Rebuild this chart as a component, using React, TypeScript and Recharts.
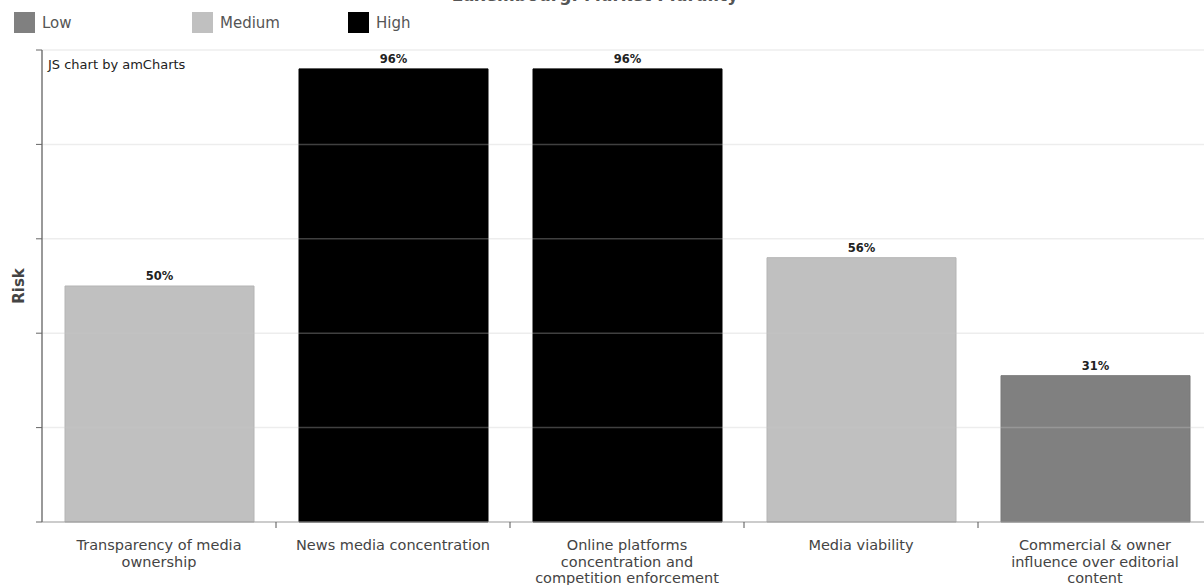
import React from "react";
import { BarChart, Bar, XAxis, YAxis, Cell, LabelList, ReferenceLine } from "recharts";

const categories = [
  "Transparency of media ownership",
  "News media concentration",
  "Online platforms concentration and competition enforcement",
  "Media viability",
  "Commercial & owner influence over editorial content",
];
const riskValues = [50, 96, 96, 56, 31];
const riskLevels = ["Medium", "High", "High", "Medium", "Low"];
const yTicks = [0, 20, 40, 60, 80, 100];
const legendItems = ["Low", "Medium", "High"];
const levelColors: Record<string, string> = { Low: "#808080", Medium: "#c0c0c0", High: "#000000" };
const levelStrokes: Record<string, string> = { Low: "#787878", Medium: "#b4b4b4", High: "#000000" };

const data = categories.map((c, i) => ({ name: c, value: riskValues[i], level: riskLevels[i] }));

const FONT = "'DejaVu Sans', Verdana, sans-serif";

function wrap(text: string, maxChars: number): string[] {
  const words = text.split(" ");
  const lines: string[] = [];
  let cur = "";
  for (const w of words) {
    const next = cur ? cur + " " + w : w;
    if (next.length > maxChars && cur) {
      lines.push(cur);
      cur = w;
    } else cur = next;
  }
  if (cur) lines.push(cur);
  return lines;
}

const CategoryTick = (props: any) => {
  const { x, y, payload, index } = props;
  const half = payload && payload.offset ? payload.offset : 117;
  const lines = wrap(String(payload.value), 24);
  return (
    <g>
      {index > 0 && (
        <line x1={x - half} y1={y - 8} x2={x - half} y2={y - 2} stroke="#555" strokeWidth={1} />
      )}
      <text x={x} y={y + 20} textAnchor="middle" fontFamily={FONT} fontSize={14.5} fill="#444">
        {lines.map((l, i) => (
          <tspan key={i} x={x} dy={i === 0 ? 0 : 16.5}>
            {l}
          </tspan>
        ))}
      </text>
    </g>
  );
};

const EmptyTick = () => <g />;

export default function App() {
  return (
    <div
      style={{
        position: "fixed",
        left: 0,
        top: 0,
        width: 1204,
        height: 585,
        overflow: "hidden",
        background: "#fff",
        fontFamily: FONT,
      }}
    >
      <div
        style={{
          position: "absolute",
          left: 0,
          width: 1190,
          top: -15,
          textAlign: "center",
          fontSize: 17,
          fontWeight: "bold",
          color: "#555",
          whiteSpace: "nowrap",
        }}
      >
        Luxembourg: Market Plurality
      </div>
      {legendItems.map((l, i) => {
        const lefts = [14, 192, 348];
        return (
          <div
            key={l}
            style={{
              position: "absolute",
              left: lefts[i],
              top: 12,
              display: "flex",
              alignItems: "center",
              height: 21,
            }}
          >
            <div style={{ width: 21, height: 21, background: levelColors[l] }} />
            <span style={{ marginLeft: 7, fontSize: 15, color: "#555" }}>{l}</span>
          </div>
        );
      })}
      <div
        style={{
          position: "absolute",
          left: 48,
          top: 57,
          fontSize: 13,
          color: "#222",
          whiteSpace: "nowrap",
        }}
      >
        JS chart by amCharts
      </div>
      <div style={{ position: "absolute", left: 0, top: 0 }}>
        <BarChart
          width={1230}
          height={585}
          data={data}
          margin={{ top: 50, right: 18, bottom: 8, left: 2 }}
        >
          <XAxis
            dataKey="name"
            interval={0}
            height={55}
            tickLine={false}
            axisLine={{ stroke: "#999" }}
            tick={<CategoryTick />}
          />
          <YAxis
            domain={[0, 100]}
            ticks={yTicks}
            width={40}
            tick={<EmptyTick />}
            tickSize={6}
            tickLine={{ stroke: "#666" }}
            axisLine={{ stroke: "#777", strokeWidth: 1.5 }}
            label={{
              value: "Risk",
              angle: -90,
              position: "insideLeft",
              offset: 17,
              style: { fontFamily: FONT, fontSize: 15, fontWeight: "bold", fill: "#444", textAnchor: "middle" },
            }}
          />
          <Bar dataKey="value" barSize={189} isAnimationActive={false}>
            {data.map((d, i) => (
              <Cell key={i} fill={levelColors[d.level]} stroke={levelStrokes[d.level]} strokeWidth={1} />
            ))}
            <LabelList
              dataKey="value"
              position="top"
              offset={6}
              formatter={(v: any) => `${v}%`}
              style={{ fontFamily: FONT, fontSize: 11.5, fontWeight: "bold", fill: "#222" }}
            />
          </Bar>
          {yTicks.slice(1).map((t) => (
            <ReferenceLine key={t} y={t} stroke="#c7c7c7" strokeOpacity={0.32} strokeWidth={1.5} />
          ))}
        </BarChart>
      </div>
    </div>
  );
}
